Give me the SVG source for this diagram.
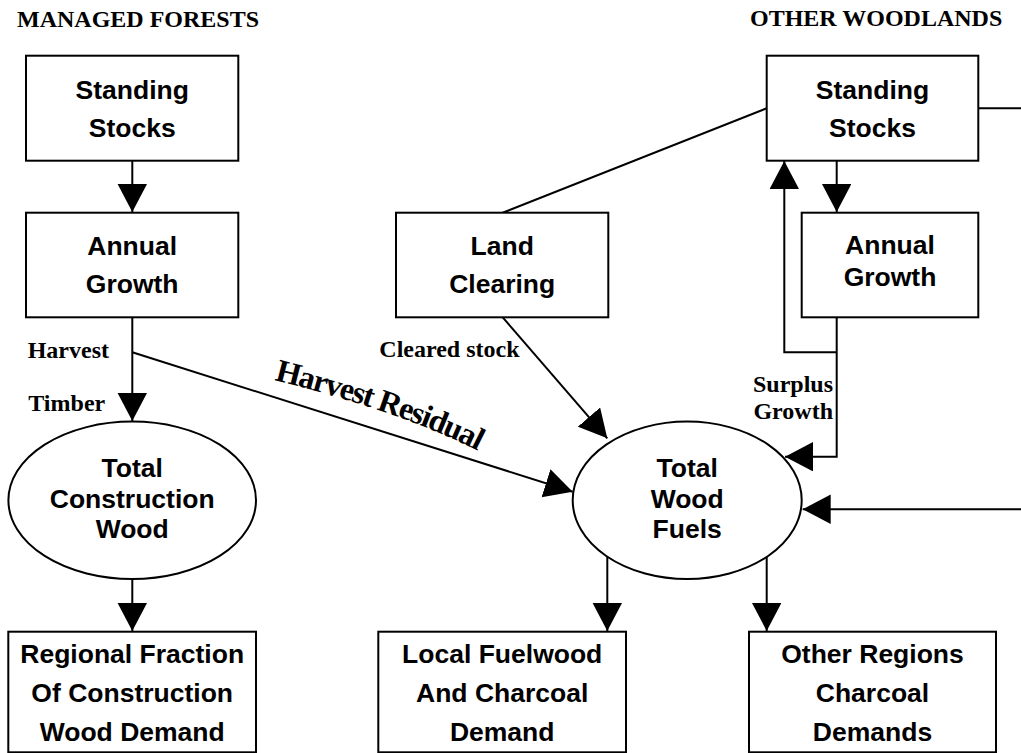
<svg xmlns="http://www.w3.org/2000/svg" width="1021" height="753" viewBox="0 0 1021 753">
  <style>
    .box { fill: #fff; stroke: #000; stroke-width: 2; }
    .node-text { font-family: "Liberation Sans", Arial, sans-serif; font-weight: bold; font-size: 26.5px; text-anchor: middle; fill: #000; }
    .label { font-family: "Liberation Serif", "Times New Roman", serif; font-weight: bold; font-size: 24px; fill: #000; }
    .wire { fill: none; stroke: #000; stroke-width: 2; }
    .wire-arrow { fill: none; stroke: #000; stroke-width: 2; marker-end: url(#head); }
  </style>
  <defs>
    <marker id="head" markerUnits="userSpaceOnUse" markerWidth="29" markerHeight="30" refX="28" refY="14.7" orient="auto">
      <path d="M0,0 L28,14.7 L0,29.4 z" fill="#000"/>
    </marker>
    <path id="residual-path" d="M274,380 Q407.2,413.2 484,454"/>
  </defs>
  <rect width="1021" height="753" fill="#fff"/>

  <!-- section headings -->
  <text class="label" x="17" y="27">MANAGED FORESTS</text>
  <text class="label" x="750" y="26">OTHER WOODLANDS</text>

  <!-- connectors -->
  <g id="connectors">
    <line class="wire-arrow" x1="132.3" y1="160.7" x2="132.3" y2="212"/>
    <line class="wire-arrow" x1="132.3" y1="317.3" x2="132.3" y2="421"/>
    <line class="wire-arrow" x1="132.3" y1="352.3" x2="572.7" y2="491.7"/>
    <line class="wire-arrow" x1="132.3" y1="579" x2="132.3" y2="631"/>
    <line class="wire" x1="502.7" y1="212.7" x2="766.7" y2="108.3"/>
    <line class="wire-arrow" x1="502.7" y1="317.3" x2="607.3" y2="438.3"/>
    <line class="wire-arrow" x1="836.7" y1="160.7" x2="836.7" y2="212"/>
    <polyline class="wire-arrow" points="836.7,317.3 836.7,456.7 785,456.7"/>
    <polyline class="wire-arrow" points="836.7,352.3 784.3,352.3 784.3,161"/>
    <line class="wire" x1="978.3" y1="108.3" x2="1021" y2="108.3"/>
    <line class="wire-arrow" x1="1021" y1="509.3" x2="802.7" y2="509.3"/>
    <line class="wire-arrow" x1="607.3" y1="556.7" x2="607.3" y2="631"/>
    <line class="wire-arrow" x1="766.7" y1="556.9" x2="766.7" y2="631"/>
  </g>

  <!-- connector labels -->
  <g id="connector-labels">
    <text class="label" x="27.7" y="357.7">Harvest</text>
    <text class="label" x="28.3" y="411">Timber</text>
    <text class="label" x="379.3" y="357.3">Cleared stock</text>
    <text class="label" x="833" y="392" text-anchor="end">Surplus</text>
    <text class="label" x="833" y="419" text-anchor="end">Growth</text>
    <text font-family="'Liberation Serif', 'Times New Roman', serif" font-weight="bold" font-size="32" letter-spacing="-1.3" fill="#000">
      <textPath href="#residual-path">Harvest Residual</textPath>
    </text>
  </g>

  <!-- managed forests -->
  <g id="mf-standing-stocks">
    <rect class="box" x="26" y="55.7" width="212.3" height="105"/>
    <text class="node-text" x="132.2" y="99">Standing</text>
    <text class="node-text" x="132.2" y="136.7">Stocks</text>
  </g>
  <g id="mf-annual-growth">
    <rect class="box" x="26" y="212.7" width="212.3" height="104.6"/>
    <text class="node-text" x="132.2" y="255">Annual</text>
    <text class="node-text" x="132.2" y="293">Growth</text>
  </g>
  <g id="total-construction-wood">
    <ellipse class="box" cx="132.2" cy="500.3" rx="123.8" ry="78.7"/>
    <text class="node-text" x="132.2" y="476.7">Total</text>
    <text class="node-text" x="132.2" y="507.7">Construction</text>
    <text class="node-text" x="132.2" y="538.3">Wood</text>
  </g>
  <g id="regional-construction-demand">
    <rect class="box" x="8.3" y="631.7" width="247.7" height="120.6"/>
    <text class="node-text" x="132.2" y="663.3">Regional Fraction</text>
    <text class="node-text" x="132.2" y="701.7">Of Construction</text>
    <text class="node-text" x="132.2" y="740.7">Wood Demand</text>
  </g>

  <!-- land clearing -->
  <g id="land-clearing">
    <rect class="box" x="396" y="212.7" width="212.3" height="104.6"/>
    <text class="node-text" x="502.2" y="255">Land</text>
    <text class="node-text" x="502.2" y="293">Clearing</text>
  </g>

  <!-- other woodlands -->
  <g id="ow-standing-stocks">
    <rect class="box" x="766.7" y="55.7" width="211.6" height="105"/>
    <text class="node-text" x="872.5" y="99">Standing</text>
    <text class="node-text" x="872.5" y="137">Stocks</text>
  </g>
  <g id="ow-annual-growth">
    <rect class="box" x="801.7" y="212.7" width="176.6" height="104.6"/>
    <text class="node-text" x="890" y="254">Annual</text>
    <text class="node-text" x="890" y="286">Growth</text>
  </g>
  <g id="total-wood-fuels">
    <ellipse class="box" cx="687.2" cy="500.3" rx="114.5" ry="78.7"/>
    <text class="node-text" x="687.2" y="476.7">Total</text>
    <text class="node-text" x="687.2" y="507.7">Wood</text>
    <text class="node-text" x="687.2" y="538.3">Fuels</text>
  </g>
  <g id="local-fuelwood-demand">
    <rect class="box" x="378.3" y="631.7" width="247.7" height="120.6"/>
    <text class="node-text" x="502.2" y="663.3">Local Fuelwood</text>
    <text class="node-text" x="502.2" y="701.7">And Charcoal</text>
    <text class="node-text" x="502.2" y="740.7">Demand</text>
  </g>
  <g id="other-regions-demand">
    <rect class="box" x="749" y="631.7" width="247" height="120.6"/>
    <text class="node-text" x="872.5" y="663.3">Other Regions</text>
    <text class="node-text" x="872.5" y="701.7">Charcoal</text>
    <text class="node-text" x="872.5" y="740.7">Demands</text>
  </g>
</svg>
